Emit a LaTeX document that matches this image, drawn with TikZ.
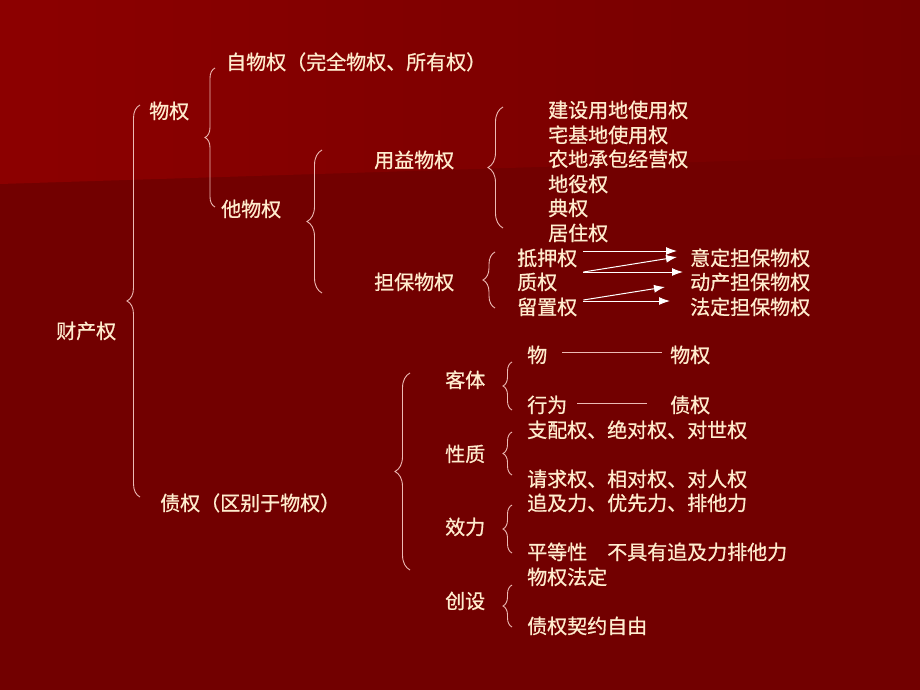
\documentclass[tikz,border=0pt]{standalone}
\usepackage{fontspec}
\setmainfont{Noto Sans CJK SC}[FakeBold=0.7]
\usepackage{tikz}
\usetikzlibrary{calc,arrows.meta,positioning,decorations.pathreplacing}
\definecolor{bgtop}{RGB}{140,0,0}
\definecolor{bgend}{RGB}{116,0,0}
\definecolor{bgdark}{RGB}{114,0,0}
\definecolor{cream}{RGB}{255,236,206}
\definecolor{pinkline}{RGB}{236,186,180}

\begin{document}
\begin{tikzpicture}[x=1pt,y=-1pt,
	txt/.style={anchor=west, inner sep=0pt, text=cream, font=\fontsize{20}{24}\selectfont, text height=17pt, text depth=2pt},
	brc/.style={draw=pinkline, line width=0.9pt, decorate, decoration={brace, amplitude=#1}},
	brc/.default=10pt,
	ln/.style={draw=pinkline, line width=0.9pt},
	arr/.style={draw=white, line width=1pt, -{Latex[length=11pt,width=8pt]}}]
			% Background
			\useasboundingbox (0,0) rectangle (920,690);
			\fill[bgdark] (0,0) rectangle (920,690);
			\shade[left color=bgtop, right color=bgend] (0,0) -- (920,0) -- (920,155) -- (0,184) -- cycle;
			
			% Nodes
			\node[txt] (ccq) at (56,331) {财产权};
			\node[txt] (wq) at (149,111) {物权};
			\node[txt] (zwq) at (226,62) {自物权（完全物权、所有权）};
			\node[txt] (twq) at (221,209) {他物权};
			\node[txt] (yy) at (374,160) {用益物权};
			\node[txt] (db) at (374,282) {担保物权};
			\node[txt] (js) at (548,110) {建设用地使用权};
			\node[txt] (zjd) at (548,135) {宅基地使用权};
			\node[txt] (nd) at (548,159) {农地承包经营权};
			\node[txt] (dy) at (548,184) {地役权};
			\node[txt] (dq) at (548,208) {典权};
			\node[txt] (jz) at (548,233) {居住权};
			\node[txt] (dya) at (517,258) {抵押权};
			\node[txt] (zhq) at (517,282) {质权};
			\node[txt] (lz) at (517,307) {留置权};
			\node[txt] (yd) at (690,258) {意定担保物权};
			\node[txt] (dc) at (690,282) {动产担保物权};
			\node[txt] (fd) at (690,307) {法定担保物权};
			
			\node[txt] (zq) at (160,503) {债权（区别于物权）};
			\node[txt] (kt) at (445,380) {客体};
			\node[txt] (xz) at (445,454) {性质};
			\node[txt] (xl) at (445,527) {效力};
			\node[txt] (cs) at (445,601) {创设};
			\node[txt] (w) at (527,355) {物};
			\node[txt] (wq2) at (670,355) {物权};
			\node[txt] (xw) at (527,405) {行为};
			\node[txt] (zq2) at (670,405) {债权};
			\node[txt] (zp) at (527,430) {支配权、绝对权、对世权};
			\node[txt] (qq) at (527,479) {请求权、相对权、对人权};
			\node[txt] (zjl) at (527,503) {追及力、优先力、排他力};
			\node[txt] (pd) at (527,552) {平等性　不具有追及力排他力};
			\node[txt] (wfd) at (527,577) {物权法定};
			\node[txt] (qy) at (527,626) {债权契约自由};
			
			% Braces
			\draw[brc=13pt] ($(zq.west)+(-20,-6)$) -- ($(wq.west)+(-9,-6)$);
			\draw[brc=10pt] ($(twq.west)+(-6,-2)$) -- ($(zwq.west)+(-11,6)$);
			\draw[brc=15pt] ($(db.west)+(-52,11)$) -- ($(yy.west)+(-52,-10)$);
			\draw[brc=15pt] ($(jz.west)+(-45,-5)$) -- ($(js.west)+(-45,-3)$);
			\draw[brc=12pt] ($(lz.west)+(-22,1)$) -- ($(dya.west)+(-22,-6)$);
			\draw[brc=15pt] ($(xl.west)+(-35,43)$) -- ($(kt.west)+(-35,-7)$);
			\draw[brc=9pt] ($(xw.west)+(-15,5)$) -- ($(w.west)+(-15,7)$);
			\draw[brc=9pt] ($(qq.west)+(-15,-4)$) -- ($(zp.west)+(-15,2)$);
			\draw[brc=9pt] ($(pd.west)+(-15,1)$) -- ($(zjl.west)+(-15,2)$);
			\draw[brc=9pt] ($(qy.west)+(-15,1)$) -- ($(wfd.west)+(-15,8)$);
			
			% Arrows
			\draw[arr] ($(dya.east)+(6,-7)$) -- ($(yd.west)+(-13,-7)$);
			\draw[arr] ($(zhq.east)+(26,-10)$) -- ($(yd.west)+(-13,-1)$);
			\draw[arr] ($(zhq.east)+(26,-10)$) -- ($(dc.west)+(-7,-10)$);
			\draw[arr] ($(lz.east)+(6,-7)$) -- ($(dc.west)+(-25,5)$);
			\draw[arr] ($(lz.east)+(6,-6)$) -- ($(fd.west)+(-20,-6)$);
			
			% Lines
			\draw[ln] ($(w.east)+(15,-3)$) -- ($(wq2.west)+(-8,-3)$);
			\draw[ln] ($(xw.east)+(10,-2)$) -- ($(zq2.west)+(-23,-2)$);
		\end{tikzpicture}
\end{document}
